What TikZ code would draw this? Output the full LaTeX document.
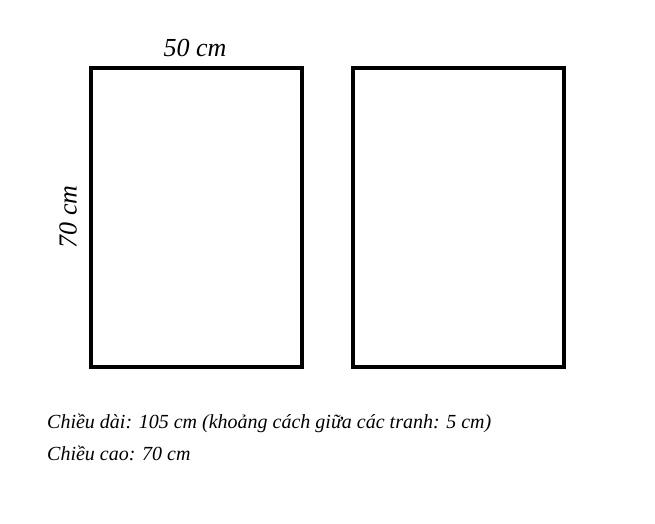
\documentclass[tikz,border=0pt]{standalone}
\usepackage{fontspec}
\setmainfont{Liberation Serif}
\usetikzlibrary{positioning}
\tikzstyle{frame} = [rectangle, draw=black, line width=4pt, minimum width=211pt, minimum height=299pt, inner sep=0pt]
\tikzstyle{size} = [font=\itshape\fontsize{26}{28}\selectfont, inner sep=0pt]
\tikzstyle{note} = [font=\itshape\fontsize{20}{22}\selectfont, inner sep=0pt, anchor=base west]

\begin{document}
\begin{tikzpicture}[x=1pt, y=-1pt]
\useasboundingbox (0,0) rectangle (655,524);
\node (leftframe) [frame] at (196,217.5) {};
\node (rightframe) [frame] at (458.5,217.5) {};
\node (width) [size] at (195,48) {50 cm};
\node (height) [size, rotate=90] at (68,217) {70 cm};
\node (length) [note] at (47,428) {Chiều dài: 105 cm (khoảng cách giữa các tranh: 5 cm)};
\node (tall) [note] at (47,460) {Chiều cao: 70 cm};

\end{tikzpicture}
\end{document}
